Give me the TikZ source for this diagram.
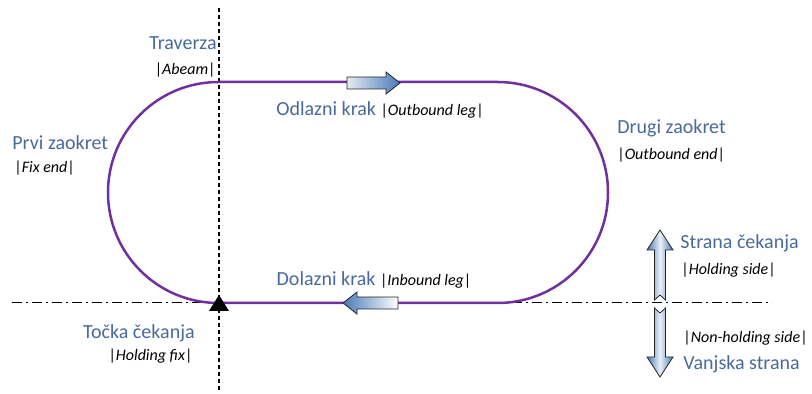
\documentclass[tikz,border=0pt]{standalone}
\usepackage{fontspec}
\setmainfont{Carlito}
\usetikzlibrary{positioning}
\definecolor{trackpurple}{RGB}{112,48,160}
\definecolor{labelblue}{RGB}{72,106,155}
\definecolor{arrowblue}{RGB}{74,122,184}
\newcommand{\engl}[1]{{\color{black}\fontsize{8}{9}\selectfont\textbar\textit{#1}\textbar}}

\begin{document}
\begin{tikzpicture}[x=0.5pt,y=-0.5pt]
			\tikzstyle{title}=[text=labelblue,font=\fontsize{10}{12}\selectfont,inner sep=0pt]
			\tikzstyle{sub}=[font=\fontsize{8}{9}\selectfont,inner sep=0pt]
			\tikzstyle{block}=[draw=black!85,line width=0.4pt,line join=miter]
			\useasboundingbox (0,0) rectangle (812,394);
			% reference lines
			\coordinate (vtop) at (219,8);
			\coordinate (vbot) at (219,392);
			\coordinate (hleft) at (12,303);
			\coordinate (hright) at (772,303);
			\draw[line width=0.6pt,dash pattern=on 2pt off 1.5pt] (vtop) -- (vbot);
			\draw[line width=0.5pt,dash pattern=on 5pt off 2pt on 1pt off 2pt] (hleft) -- (hright);
			
			% holding pattern
			\draw[trackpurple,line width=1.25pt,rounded corners=55.25pt] (108,82) rectangle (608,303);
			\fill[black] (219,295) -- (229,311) -- (209,311) -- cycle;
			
			% direction arrows
			\shade[block,left color=arrowblue!15,right color=arrowblue] (347,77) -- (386,77) -- (386,72) -- (400,83) -- (386,94) -- (386,89) -- (347,89) -- cycle;
			\shade[block,left color=arrowblue,right color=white] (398,297) -- (357,297) -- (357,292) -- (343,303) -- (357,314) -- (357,309) -- (398,309) -- cycle;
			\shade[block,left color=arrowblue,right color=arrowblue,middle color=arrowblue!12] (660,230) -- (673,250) -- (665.5,250) -- (665.5,300) -- (660,295) -- (654.5,300) -- (654.5,250) -- (647,250) -- cycle;
			\shade[block,left color=arrowblue,right color=arrowblue,middle color=arrowblue!12] (654.5,308) -- (660,313) -- (665.5,308) -- (665.5,357) -- (673,357) -- (660,377) -- (647,357) -- (654.5,357) -- cycle;
			
			% labels
			\node (trav)[title,anchor=east] at (217,43) {Traverza};
			\node (abeam)[sub,anchor=east] at (216,70) {\engl{Abeam}};
			\node (prvi)[title,anchor=west] at (12,143) {Prvi zaokret};
			\node (fix)[sub,anchor=west] at (14,168) {\engl{Fix end}};
			\node (odl)[title] at (380,110) {Odlazni krak \engl{Outbound leg}};
			\node (drugi)[title,anchor=west] at (617,128) {Drugi zaokret};
			\node (outend)[sub,anchor=west] at (617,155) {\engl{Outbound end}};
			\node (dol)[title] at (374,280) {Dolazni krak \engl{Inbound leg}};
			\node (strana)[title,anchor=west] at (680,243) {Strana čekanja};
			\node (hside)[sub,anchor=west] at (681,270) {\engl{Holding side}};
			\node (nhside)[sub,anchor=west] at (683,338) {\engl{Non-holding side}};
			\node (vanj)[title,anchor=west] at (683,364) {Vanjska strana};
			\node (tocka)[title,anchor=east] at (195,333) {Točka čekanja};
			\node (hfix)[sub,anchor=east] at (193,356) {\engl{Holding fix}};
		\end{tikzpicture}
\end{document}
